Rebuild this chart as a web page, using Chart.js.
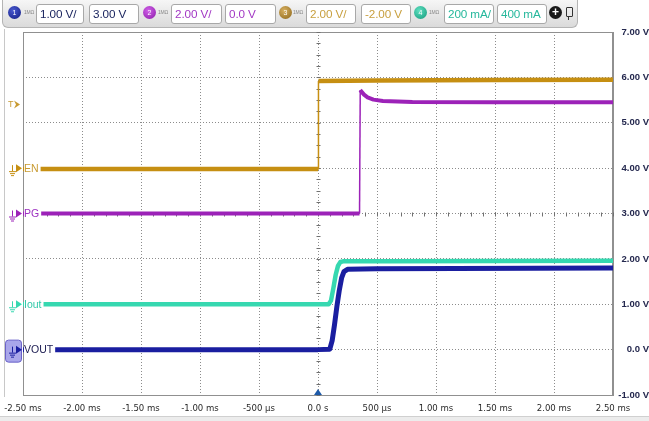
<!DOCTYPE html>
<html>
<head>
<meta charset="utf-8">
<script src="https://cdn.jsdelivr.net/npm/chart.js@4.4.1/dist/chart.umd.min.js"></script>
<style>
html,body{margin:0;padding:0;background:#fff;}
#wrap{position:relative;width:649px;height:421px;overflow:hidden;background:#fff;}
#c{position:absolute;left:0;top:0;}
#bar{position:absolute;left:2px;top:0px;width:576px;height:28px;background:linear-gradient(#f6f6f6,#dadada);border:1px solid #b4b4b4;border-top:none;border-radius:0 0 6px 6px;box-sizing:border-box;font-family:'Liberation Sans',Arial,sans-serif;}
.dot{position:absolute;top:6px;width:13px;height:13px;border-radius:50%;color:#fff;font-size:7px;line-height:13px;text-align:center;}
.mo{position:absolute;top:9px;font-size:5px;color:#888;letter-spacing:-0.2px;}
.bx{position:absolute;top:4px;height:20px;background:#fff;border:1px solid #a8a8a8;border-radius:3px;box-sizing:border-box;font-size:11.7px;line-height:18px;padding-left:3px;white-space:nowrap;overflow:hidden;letter-spacing:-0.1px;}
#bot{position:absolute;left:0;top:416px;width:649px;height:5px;background:#ececec;border-top:1px solid #d0d0d0;}
#lline{position:absolute;left:4px;top:29px;width:1px;height:368px;background:#c8c8c8;}
</style>
</head>
<body>
<div id="wrap">
<canvas id="c" width="649" height="421"></canvas>
<div id="lline"></div>
<div id="bot"></div>
<div id="bar">
  <div class="dot" style="left:5px;background:radial-gradient(circle at 40% 35%,#4a5ad0,#101a80);">1</div>
  <div class="mo" style="left:21px;">1MΩ</div>
  <div class="bx" style="left:33px;width:48px;color:#1c2660;">1.00 V/</div>
  <div class="bx" style="left:86px;width:50px;color:#1c2660;">3.00 V</div>
  <div class="dot" style="left:140px;background:radial-gradient(circle at 40% 35%,#d060e8,#8a1aa8);">2</div>
  <div class="mo" style="left:155px;">1MΩ</div>
  <div class="bx" style="left:168px;width:51px;color:#a238c4;">2.00 V/</div>
  <div class="bx" style="left:222px;width:51px;color:#a238c4;">0.0 V</div>
  <div class="dot" style="left:276px;background:radial-gradient(circle at 40% 35%,#d8b060,#8a6418);">3</div>
  <div class="mo" style="left:290px;">1MΩ</div>
  <div class="bx" style="left:303px;width:50px;color:#c8a040;">2.00 V/</div>
  <div class="bx" style="left:358px;width:50px;color:#c8a040;">-2.00 V</div>
  <div class="dot" style="left:411px;background:radial-gradient(circle at 40% 35%,#60e0c0,#10987a);">4</div>
  <div class="mo" style="left:426px;">1MΩ</div>
  <div class="bx" style="left:441px;width:50px;color:#26b89c;">200 mA/</div>
  <div class="bx" style="left:494px;width:50px;color:#26b89c;">400 mA</div>
  <div class="dot" style="left:546px;background:#1a1a1a;font-size:12px;line-height:12px;font-weight:bold;">+</div>
  <div style="position:absolute;left:563px;top:7px;width:5px;height:8px;border:1px solid #333;border-radius:1px;"></div>
  <div style="position:absolute;left:565px;top:16px;width:1px;height:4px;background:#333;"></div>
</div>
</div>
<script>
// ---- data (time in ms, level in V on screen scale) ----
const xTickValues = [-2.5,-2.0,-1.5,-1.0,-0.5,0,0.5,1.0,1.5,2.0,2.5];
const xTickLabels = ['-2.50 ms','-2.00 ms','-1.50 ms','-1.00 ms','-500 µs','0.0 s','500 µs','1.00 ms','1.50 ms','2.00 ms','2.50 ms'];
const yTickValues = [-1,0,1,2,3,4,5,6,7];
const yTickLabels = ['-1.00 V','0.0 V','1.00 V','2.00 V','3.00 V','4.00 V','5.00 V','6.00 V','7.00 V'];

const enT = [-2.5, -1.0, 0.0, 0.004, 0.5, 1.5, 2.5];
const enV = [3.98, 3.98, 3.98, 5.92, 5.93, 5.94, 5.95];

const pgT = [-2.5, 0.0, 0.352, 0.358, 0.37, 0.39, 0.42, 0.47, 0.55, 0.8, 1.5, 2.5];
const pgV = [3.0, 3.0, 3.0, 5.72, 5.68, 5.62, 5.56, 5.51, 5.48, 5.46, 5.45, 5.45];

const ioT = [-2.5, 0.0, 0.09, 0.11, 0.13, 0.15, 0.17, 0.19, 0.22, 0.6, 2.5];
const ioV = [1.0, 1.0, 1.0, 1.08, 1.35, 1.65, 1.85, 1.93, 1.95, 1.95, 1.96];

const voT = [-2.5, 0.0, 0.10, 0.12, 0.14, 0.16, 0.18, 0.20, 0.22, 0.25, 0.5, 2.5];
const voV = [0.0, 0.0, 0.01, 0.2, 0.55, 0.95, 1.3, 1.58, 1.72, 1.77, 1.78, 1.8];

const channelNames = ['EN','PG','Iout','VOUT'];
const channelLevels = [4, 3, 1, 0];
const channelColors = ['#c68f12','#9c22b8','#36d8b0','#1a1ea0'];
const labelColors = ['#c89a30','#9c30c0','#30c8a8','#1a1a50'];
const triggerLevel = 5.4;

function pts(t, v){ return t.map((x,i)=>({x:x, y:v[i]})); }
function seg(w){ return { borderWidth: c => (Math.abs(c.p1.x - c.p0.x) < 1.2 ? 1.5 : w) }; }

const FONT = "'Liberation Sans Narrow','DejaVu Sans Condensed','Liberation Sans',sans-serif";

const decor = {
  id:'decor',
  beforeDatasetsDraw(chart){
    const {ctx, chartArea:a, scales:{x,y}} = chart;
    ctx.save();
    ctx.strokeStyle = '#909090'; ctx.lineWidth = 1;
    ctx.strokeRect(Math.round(a.left)+0.5, Math.round(a.top)+0.5, Math.round(a.right-a.left)-1, Math.round(a.bottom-a.top));
    ctx.strokeStyle = '#707070';
    const cx = Math.round(x.getPixelForValue(0))+0.5;
    for(let v=-1; v<=7.001; v+=0.25){
      const py = Math.round(y.getPixelForValue(v))+0.5;
      ctx.beginPath(); ctx.moveTo(cx-2, py); ctx.lineTo(cx+2, py); ctx.stroke();
    }
    const cy = Math.round(y.getPixelForValue(3))+0.5;
    for(let t=-2.5; t<=2.501; t+=0.1){
      const px = Math.round(x.getPixelForValue(t))+0.5;
      ctx.beginPath(); ctx.moveTo(px, cy-2); ctx.lineTo(px, cy+2); ctx.stroke();
    }
    ctx.restore();
  },
  afterDatasetsDraw(chart){
    const {ctx, chartArea:a, scales:{x,y}} = chart;
    ctx.save();
    ctx.font = "10.5px 'Liberation Sans',sans-serif";
    ctx.textBaseline = 'middle';
    channelNames.forEach((n,i)=>{
      const py = y.getPixelForValue(channelLevels[i]);
      const w = ctx.measureText(n).width;
      ctx.fillStyle = '#fff';
      ctx.fillRect(a.left+1, py-6, w+2, 12);
      ctx.fillStyle = labelColors[i];
      ctx.fillText(n, a.left+1, py+0.5);
      if(n==='VOUT'){
        ctx.fillStyle = '#a9a6ea'; ctx.strokeStyle = '#6a62c8'; ctx.lineWidth = 1;
        ctx.beginPath(); ctx.roundRect(5.5, py-9.5, 16, 22, 3); ctx.fill(); ctx.stroke();
      }
      const gc = channelColors[i];
      ctx.strokeStyle = gc; ctx.lineWidth = 1;
      const gx = 12, gy = py+1;
      ctx.beginPath();
      ctx.moveTo(gx+0.5, gy-4); ctx.lineTo(gx+0.5, gy+2);
      ctx.moveTo(gx-3, gy+2.5); ctx.lineTo(gx+4, gy+2.5);
      ctx.moveTo(gx-2, gy+4.5); ctx.lineTo(gx+3, gy+4.5);
      ctx.moveTo(gx-1, gy+6.5); ctx.lineTo(gx+2, gy+6.5);
      ctx.stroke();
      ctx.fillStyle = gc;
      ctx.beginPath(); ctx.moveTo(16, py-4); ctx.lineTo(22, py); ctx.lineTo(16, py+4); ctx.closePath(); ctx.fill();
    });
    const ty = y.getPixelForValue(triggerLevel);
    ctx.fillStyle = '#c89a30';
    ctx.font = "9px 'Liberation Sans',sans-serif";
    ctx.fillText('T', 8, ty);
    ctx.beginPath(); ctx.moveTo(14, ty-4); ctx.lineTo(20, ty); ctx.lineTo(14, ty+4); ctx.lineTo(16, ty); ctx.closePath(); ctx.fill();
    const tx = x.getPixelForValue(0);
    ctx.fillStyle = '#1e5aa8';
    ctx.beginPath(); ctx.moveTo(tx-4, a.bottom); ctx.lineTo(tx, a.bottom-6); ctx.lineTo(tx+4, a.bottom); ctx.closePath(); ctx.fill();
    ctx.restore();
  }
};

new Chart(document.getElementById('c'), {
  type:'line',
  data:{
    datasets:[
      {label:'Iout', data:pts(ioT,ioV), borderColor:channelColors[2], borderWidth:4.5, segment:seg(4.5)},
      {label:'VOUT', data:pts(voT,voV), borderColor:channelColors[3], borderWidth:5, segment:seg(5)},
      {label:'PG', data:pts(pgT,pgV), borderColor:channelColors[1], borderWidth:4, segment:seg(4)},
      {label:'EN', data:pts(enT,enV), borderColor:channelColors[0], borderWidth:4.5, segment:seg(4.5)}
    ]
  },
  options:{
    responsive:false, animation:false, devicePixelRatio:1,
    layout:{padding:{left:23, top:32, right:0, bottom:0}},
    elements:{point:{radius:0}, line:{tension:0, borderJoinStyle:'round'}},
    plugins:{legend:{display:false}, tooltip:{enabled:false}},
    scales:{
      x:{
        type:'linear', min:-2.5, max:2.5,
        afterBuildTicks(s){ s.ticks = xTickValues.map(v=>({value:v})); },
        afterFit(s){ s.height = 26; s.paddingLeft = 0; s.paddingRight = 0; },
        ticks:{autoSkip:false, maxRotation:0, padding:8, color:'#2a2a2a',
          font:{family:FONT, size:9.5},
          callback:(v)=>{ const i = xTickValues.findIndex(t=>Math.abs(t-v)<1e-6); return i>=0?xTickLabels[i]:''; }},
        grid:{color:'#8c8c8c', lineWidth:1, drawTicks:false},
        border:{display:true, color:'#909090', dash:[1,2]}
      },
      y:{
        position:'right', min:-1, max:7,
        afterBuildTicks(s){ s.ticks = yTickValues.map(v=>({value:v})); },
        afterFit(s){ s.width = 36; s.paddingTop = 0; s.paddingBottom = 0; },
        ticks:{autoSkip:false, padding:3, crossAlign:'far', color:'#24284e',
          font:{family:"'Liberation Sans',sans-serif", size:9.5, weight:'bold'},
          callback:(v)=>{ const i = yTickValues.findIndex(t=>Math.abs(t-v)<1e-6); return i>=0?yTickLabels[i]:''; }},
        grid:{color:'#8c8c8c', lineWidth:1, drawTicks:false},
        border:{display:true, color:'#909090', dash:[1,2]}
      }
    }
  },
  plugins:[decor]
});
</script>
</body>
</html>
